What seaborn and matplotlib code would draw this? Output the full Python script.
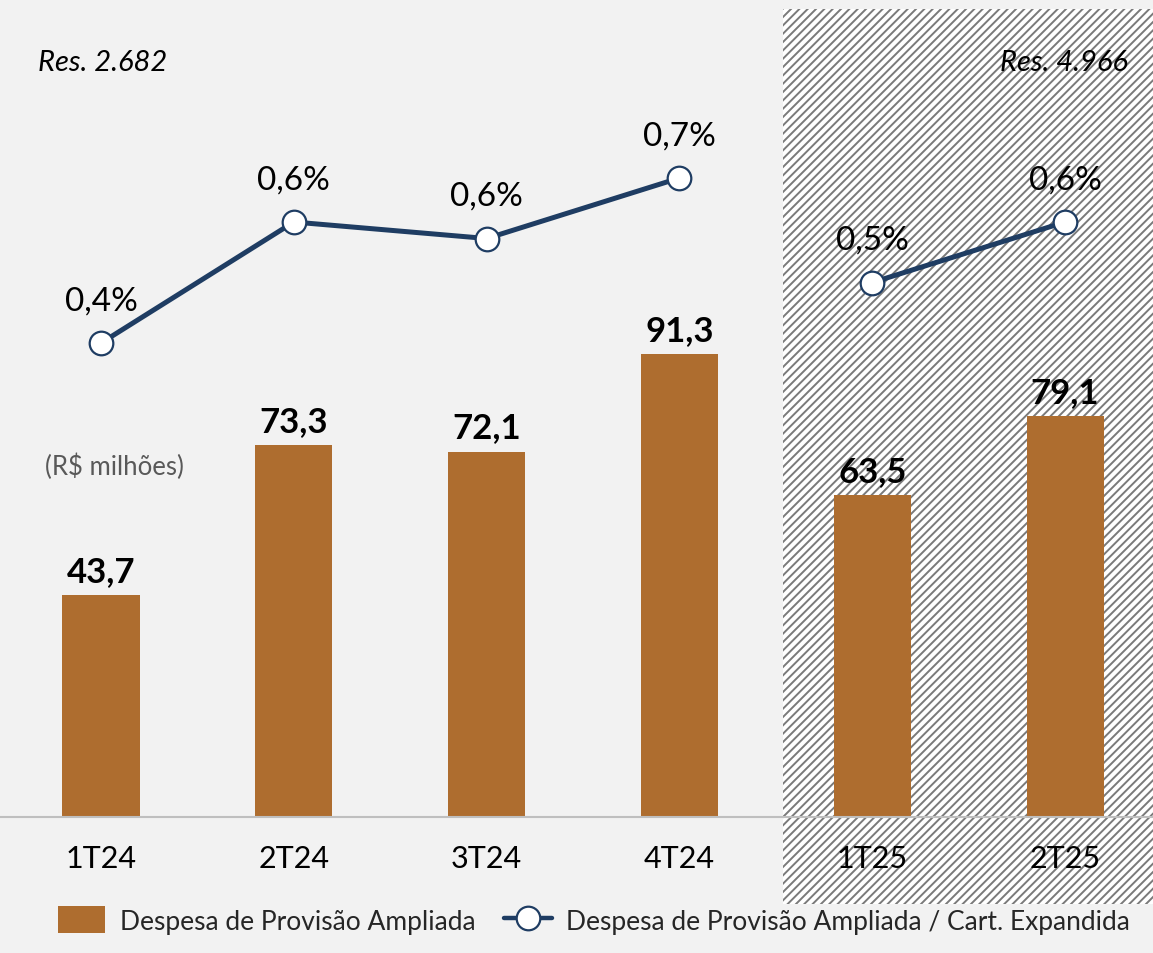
import matplotlib
matplotlib.use("Agg")
import matplotlib.pyplot as plt
import seaborn as sns
import numpy as np
import pandas as pd
from matplotlib.patches import Rectangle, Patch
from matplotlib.lines import Line2D

# ---- data ----
categorias = ["1T24", "2T24", "3T24", "4T24", "1T25", "2T25"]
despesa = [43.7, 73.3, 72.1, 91.3, 63.5, 79.1]
despesa_labels = ["43,7", "73,3", "72,1", "91,3", "63,5", "79,1"]
razao = [0.40, 0.62, 0.59, 0.70, 0.51, 0.62]
razao_labels = ["0,4%", "0,6%", "0,6%", "0,7%", "0,5%", "0,6%"]
periodo = ["Res. 2.682"] * 4 + ["Res. 4.966"] * 2

sns.set_theme(style="white")
plt.rcParams['font.family'] = ['Lato', 'DejaVu Sans']
plt.rcParams['hatch.linewidth'] = 1.4

BG = "#f2f2f2"
BAR = "#ae6d2f"
NAVY = "#1f3d63"

fig = plt.figure(figsize=(11.53, 9.54), dpi=100, facecolor=BG)

# hatched region for new regulation
hatch_rect = Rectangle((783 / 1153, (954 - 905) / 954), (1153 - 783) / 1153, (905 - 10) / 954,
                       transform=fig.transFigure, facecolor="white", edgecolor="#7a7a7a",
                       hatch="////", linewidth=0, zorder=-5)
fig.patches.append(hatch_rect)

ax = fig.add_axes([0, 136 / 954, 1, 808 / 954])
ax.set_zorder(2)
ax.patch.set_visible(False)

df = pd.DataFrame({"cat": categorias, "despesa": despesa, "razao": razao,
                   "periodo": periodo, "pos": np.arange(len(categorias))})

sns.barplot(data=df, x="cat", y="despesa", color=BAR, width=0.4, ax=ax,
            saturation=1, edgecolor="none")
ax.set_xlim(-0.524, 5.456)
ax.set_ylim(0, 159.4)
for i, (v, lab) in enumerate(zip(despesa, despesa_labels)):
    ax.annotate(lab, (i, v), xytext=(0, 6), textcoords="offset points",
                ha="center", va="bottom", fontsize=25, fontweight="bold", color="black")

for s in ["top", "right", "left"]:
    ax.spines[s].set_visible(False)
ax.spines["bottom"].set_color("#bfbfbf")
ax.spines["bottom"].set_linewidth(1.5)
ax.set_yticks([])
ax.set_xlabel("")
ax.set_ylabel("")
ax.tick_params(axis="x", length=0, pad=19.5, labelsize=22, labelcolor="black")

ax2 = ax.twinx()
ax2.patch.set_visible(False)
sns.lineplot(data=df, x="pos", y="razao", hue="periodo", palette=[NAVY, NAVY],
             linewidth=3.6, marker="o", markersize=17, markerfacecolor="white",
             markeredgecolor=NAVY, markeredgewidth=1.6, legend=False, ax=ax2)
ax2.set_ylim(-0.4618, 1.0073)
ax2.set_xlim(-0.524, 5.456)
ax2.set_yticks([])
ax2.set_ylabel("")
ax2.set_xlabel("")
for s in ax2.spines.values():
    s.set_visible(False)
for i, (v, lab) in enumerate(zip(razao, razao_labels)):
    ax2.annotate(lab, (i, v), xytext=(0, 20), textcoords="offset points",
                 ha="center", va="bottom", fontsize=24, color="black")

fig.text(38 / 1153, 1 - 63 / 954, "Res. 2.682", fontsize=21, style="italic",
         ha="left", va="center", color="black")
fig.text(1128 / 1153, 1 - 63 / 954, "Res. 4.966", fontsize=21, style="italic",
         ha="right", va="center", color="black")
fig.text(45 / 1153, 1 - 467 / 954, "(R$ milhões)", fontsize=18.5, ha="left", va="center",
         color="#595959")

handles = [Patch(facecolor=BAR, edgecolor="none"),
           Line2D([0], [0], color=NAVY, linewidth=3.2, marker="o", markersize=17,
                  markerfacecolor="white", markeredgecolor=NAVY, markeredgewidth=1.6,
                  solid_capstyle="round")]
labels = ["Despesa de Provisão Ampliada", "Despesa de Provisão Ampliada / Cart. Expandida"]
fig.legend(handles, labels, loc="center", bbox_to_anchor=(594 / 1153, 1 - 921 / 954), ncol=2,
           frameon=False, fontsize=19, handlelength=1.8, handleheight=1.15,
           columnspacing=1.1, handletextpad=0.55, borderpad=0)

fig.savefig("out.png", dpi=100, facecolor=BG)
